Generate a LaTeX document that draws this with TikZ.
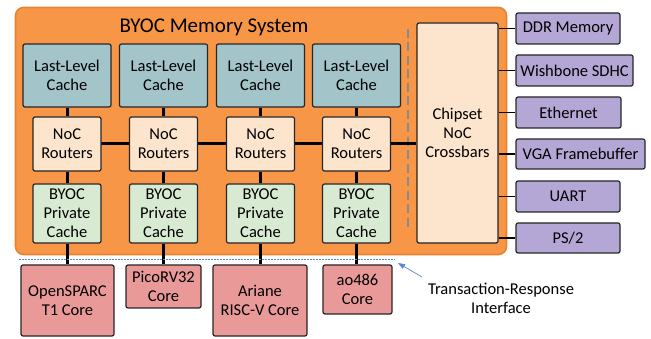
\documentclass[tikz,border=0pt]{standalone}
\usepackage{fontspec}
\setmainfont{Carlito}
\usetikzlibrary{arrows.meta}
\definecolor{orgfill}{HTML}{F79646}
\definecolor{orgdraw}{HTML}{E9822F}
\definecolor{llcfill}{HTML}{A3C4C9}
\definecolor{peach}{HTML}{FCE4CD}
\definecolor{greenfill}{HTML}{D9EAD3}
\definecolor{purplefill}{HTML}{B4A7D6}
\definecolor{corefill}{HTML}{EA9999}
\definecolor{dotblue}{HTML}{5A86D2}
\definecolor{arrblue}{HTML}{5B86CF}
\definecolor{dashgrey}{HTML}{8A8A8A}
\definecolor{boxline}{HTML}{262626}
\pgfdeclarelayer{back}
\pgfdeclarelayer{mid}
\pgfsetlayers{back,mid,main}
\tikzset{
  txt/.style={font=\fontsize{16.5}{19}\selectfont},
  box/.style={txt, draw=boxline, line width=1.2pt, rounded corners=2pt, align=center, inner sep=0pt},
  llc/.style={box, fill=llcfill, minimum width=88pt, minimum height=63pt},
  router/.style={box, fill=peach, minimum width=68pt, minimum height=54pt},
  priv/.style={box, fill=greenfill, minimum width=68pt, minimum height=59pt},
  periph/.style={box, fill=purplefill, minimum height=31pt},
  corebox/.style={box, fill=corefill},
  thick conn/.style={line width=3pt, black},
  thin conn/.style={line width=1.8pt, black},
}
\begin{document}
\begin{tikzpicture}[x=1pt,y=-1pt]
\useasboundingbox (0,0) rectangle (651,339);
% orange memory system box
\begin{pgfonlayer}{back}
\node[draw=orgdraw, line width=1.6pt, fill=orgfill, rounded corners=8pt, minimum width=491pt, minimum height=247pt, inner sep=0pt] (mem) at (261,131) {};
\draw[dashgrey, line width=2.3pt, dash pattern=on 9pt off 4.5pt] (408,29) coordinate (dsa) -- (408,228) coordinate (dsb);
\end{pgfonlayer}
\node[font=\fontsize{21}{24}\selectfont] (title) at (214,27) {BYOC Memory System};
% columns
\foreach \i/\x in {1/67,2/163.5,3/260.5,4/356.5}{
  \node[llc] (l\i) at (\x,75.5) {Last-Level\\Cache};
  \node[router] (r\i) at (\x,144) {NoC\\Routers};
  \node[priv] (p\i) at (\x,213.5) {BYOC\\Private\\Cache};
}
\node[box, fill=peach, minimum width=81pt, minimum height=220pt] (chip) at (457.5,133) {Chipset\\NoC\\Crossbars};
% peripherals
\node[periph, minimum width=104pt] (ddr) at (568,28.5) {DDR Memory};
\node[periph, minimum width=117pt] (sdhc) at (574.5,70.5) {Wishbone SDHC};
\node[periph, minimum width=105pt] (eth) at (568.5,112.5) {Ethernet};
\node[periph, minimum width=129pt, minimum height=30pt] (vga) at (580.5,154) {VGA Framebuffer};
\node[periph, minimum width=104pt] (uart) at (568,196.5) {UART};
\node[periph, minimum width=104pt, minimum height=30pt] (ps2) at (568,238) {PS/2};
% cores
\node[corebox, minimum width=93pt, minimum height=71pt] (c1) at (67.5,300.5) {OpenSPARC\\T1 Core};
\node[corebox, minimum width=75pt, minimum height=43pt] (c2) at (163.5,286.5) {PicoRV32\\Core};
\node[corebox, minimum width=94pt, minimum height=71pt] (c3) at (260,300.5) {Ariane\\RISC-V Core};
\node[corebox, minimum width=69pt, minimum height=49pt] (c4) at (357.5,289.5) {ao486\\Core};
% interface label
\node[txt, align=center] (tri) at (501,298) {Transaction-Response\\Interface};
\coordinate (dl) at (19,259.5);
\coordinate (dr) at (395,259.5);
\coordinate (as) at (422,277);
\coordinate (at) at (398,263);
% connectors
\begin{pgfonlayer}{mid}
\foreach \i in {1,2,3,4}{
  \draw[thick conn] (l\i.south) -- (r\i.north);
  \draw[thick conn] (r\i.south) -- (p\i.north);
  \draw[thick conn] (p\i.south) -- (p\i.south |- c\i.north);
}
\draw[thick conn] (r1.center) -- (r4.center) -- (r4 -| chip.west);
\foreach \n in {ddr,sdhc,eth,vga,uart,ps2}{
  \draw[thin conn] (chip.east |- \n.west) -- (\n.west);
}
\end{pgfonlayer}
\draw[dotblue, line width=1.4pt, dash pattern=on 1.5pt off 1.5pt] (dl) -- (dr);
\draw[arrblue, line width=0.7pt, -{Triangle[length=7pt,width=5pt]}] (as) -- (at);
\end{tikzpicture}
\end{document}
